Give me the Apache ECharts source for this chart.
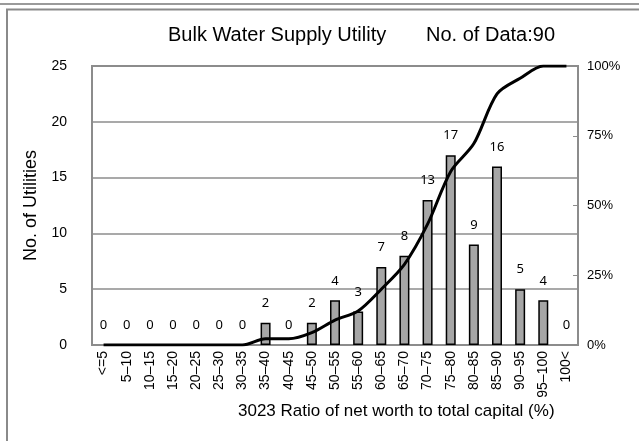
<!DOCTYPE html>
<html><head><meta charset="utf-8">
<script src="https://cdn.jsdelivr.net/npm/echarts@6/dist/echarts.min.js"></script>
<style>html,body{margin:0;padding:0;background:#fff}#c{width:639px;height:441px}</style>
</head><body><div id="c"></div>
<script>
var categories = ['<=5','5–10','10–15','15–20','20–25','25–30','30–35','35–40','40–45','45–50','50–55','55–60','60–65','65–70','70–75','75–80','80–85','85–90','90–95','95–100','100<'];
var counts = [0,0,0,0,0,0,0,2,0,2,4,3,7,8,13,17,9,16,5,4,0];
var cumulativePct = [0,0,0,0,0,0,0,2.2,2.2,4.4,8.9,12.2,20.0,28.9,43.3,62.2,72.2,90.0,95.6,100,100];
var leftTicks = [0,5,10,15,20,25];
var rightTicks = ['0%','25%','50%','75%','100%'];
var titleText = 'Bulk Water Supply Utility';
var subText = 'No. of Data:90';
var yName = 'No. of Utilities';
var xName = '3023 Ratio of net worth to total capital (%)';

var chart = echarts.init(document.getElementById('c'), null, {renderer:'canvas'});
var latin = '"Liberation Sans", Arial, sans-serif';
var barData = counts.map(function(v){ return v === 0 ? {value:v, itemStyle:{borderWidth:0}} : v; });
chart.setOption({
  animation:false,
  backgroundColor:'#fff',
  graphic:[
    {type:'line', shape:{x1:0,y1:4,x2:639,y2:4}, style:{stroke:'#9a9a9a', lineWidth:2}},
    {type:'polyline', shape:{points:[[7,441],[7,9.5],[639,9.5]]}, style:{stroke:'#8a8a8a', lineWidth:2, fill:null}},
    {type:'text', left:168, top:25, style:{text:titleText, font:'20px '+latin, fill:'#000'}},
    {type:'text', right:84, top:25, style:{text:subText, font:'20px '+latin, fill:'#000'}},
    {type:'text', left:238, top:403, style:{text:xName, font:'17px '+latin, fill:'#000'}}
  ],
  grid:{left:92, right:61, top:66, bottom:96, show:true, borderColor:'#8c8c8c', borderWidth:2},
  xAxis:{
    type:'category', data:categories,
    axisLine:{show:true, lineStyle:{color:'#8c8c8c', width:2}},
    axisTick:{show:false},
    axisLabel:{rotate:90, interval:0, fontSize:14, color:'#000', fontFamily:latin, margin:6}
  },
  yAxis:[
    {type:'value', min:0, max:25, interval:5, position:'left',
     name:yName, nameLocation:'middle', nameGap:37, nameRotate:90,
     nameTextStyle:{fontSize:18, color:'#000', fontFamily:latin},
     axisLine:{show:true, lineStyle:{color:'#8c8c8c', width:2}},
     axisTick:{show:false},
     axisLabel:{fontSize:14, color:'#000', fontFamily:latin, margin:25,
       formatter:function(v){return leftTicks.indexOf(v)>=0 ? String(v) : '';}},
     splitLine:{show:true, lineStyle:{color:'#8c8c8c', width:1.5}}
    },
    {type:'value', min:0, max:100, interval:25, position:'right',
     axisLine:{show:true, lineStyle:{color:'#8c8c8c', width:2}},
     axisTick:{show:true, inside:true, length:5, lineStyle:{color:'#8c8c8c', width:1}},
     axisLabel:{fontSize:13, color:'#000', fontFamily:latin, margin:9,
       formatter:function(v){return rightTicks[Math.round(v/25)];}},
     splitLine:{show:false}
    }
  ],
  series:[
    {type:'bar', data:barData, yAxisIndex:0, barWidth:10,
     itemStyle:{color:'#a6a6a6', borderColor:'#000', borderWidth:1.5},
     label:{show:true, position:'top', distance:13, fontSize:13, color:'#000', fontFamily:'"Noto Sans", sans-serif'},
     z:2},
    {type:'line', data:cumulativePct, yAxisIndex:1, smooth:0.3, symbol:'none',
     lineStyle:{color:'#000', width:3}, z:3}
  ]
});
</script></body></html>
